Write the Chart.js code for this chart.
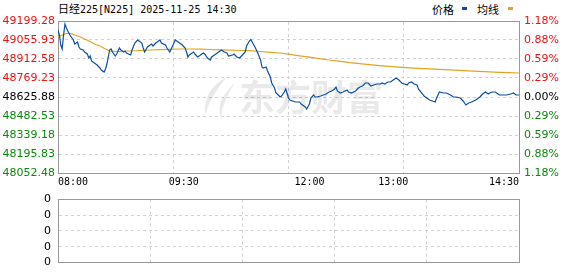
<!DOCTYPE html>
<html><head><meta charset="utf-8">
<script src="https://cdn.jsdelivr.net/npm/chart.js@4.4.0/dist/chart.umd.min.js"></script>
<style>
html,body{margin:0;padding:0;background:#fff;width:578px;height:276px;overflow:hidden;}
body{position:relative;}
#c1{position:absolute;left:0;top:0;}
#c2{position:absolute;left:0;top:186px;}
#title{position:absolute;left:58px;top:2px;font-family:'DejaVu Sans Mono';font-size:10px;color:#000;white-space:nowrap;line-height:13px;}
#title .cjk{font-family:'Noto Sans CJK SC';font-size:11px;}
#legend{position:absolute;top:1px;left:0;width:578px;height:16px;font-family:'Noto Sans CJK SC';font-size:11px;color:#000;}
#legend span{position:absolute;line-height:16px;white-space:nowrap;}
#legend i{position:absolute;display:block;height:3px;width:5px;top:6px;}
</style>
</head><body>
<div id="title"><span class="cjk">日经</span>225[N225] 2025-11-25 14:30</div>
<div id="legend">
  <span style="left:432px">价格</span><i style="left:462px;background:#0d4fa3"></i>
  <span style="left:477px">均线</span><i style="left:508px;background:#e0a526"></i>
</div>
<canvas id="c1" width="578" height="190"></canvas>
<canvas id="c2" width="578" height="90"></canvas>
<script>
// ---- data (minutes counted in trading time from 08:00) ----
const priceMinutes = [0,1,2,3,4,5,6,7,9,11,12,14,15,16,18,19,21,22,23,24,26,28,30,31,33,34,35,36,37,38,39,41,42,44,45,47,48,49,52,53,55,57,58,60,61,62,64,65,67,68,70,72,73,74,77,78,80,82,84,85,87,89,91,92,93,94,97,98,100,102,104,105,107,109,110,112,115,117,119,121,122,125,126,128,130,132,134,135,137,138,139,141,143,145,146,147,149,150,152,153,155,156,157,159,160,162,163,165,166,168,170,173,174,175,177,178,180,181,183,184,185,188,190,192,194,196,198,199,200,202,204,207,208,210,213,215,216,218,220,222,224,226,228,231,232,234,236,238,240,242,244,246,248,250,251,253,255,257,258,261,262,264,266,268,270,271,273,276,278,281,283,285,288,290,292,294,296,299,301,302,304,306,308,309,311,313,315,316,319,321,324,326,328,330];
const priceValues = [49131.4,49093.6,49018.2,48988.0,49093.6,49176.6,49146.5,49123.8,49086.1,49055.9,49025.7,49040.8,49003.1,48988.0,48980.5,48965.4,48950.3,48920.1,48935.2,48897.5,48882.4,48867.3,48844.7,48829.6,48814.5,48837.1,48874.9,48927.7,48980.5,48988.0,48965.4,48935.2,48950.3,48995.6,48980.5,48965.4,48973.0,48957.8,48942.8,48980.5,49033.3,49055.9,49048.4,49033.3,48995.6,48965.4,49003.1,49010.7,49025.7,49010.7,49033.3,49048.4,49055.9,49033.3,49018.2,48995.6,48965.4,49010.7,49055.9,49048.4,49033.3,49018.2,48995.6,48965.4,48927.7,48942.8,48965.4,48950.3,48927.7,48942.8,48957.8,48950.3,48920.1,48905.0,48927.7,48942.8,48965.4,48980.5,48965.4,48957.8,48935.2,48942.8,48950.3,48927.7,48920.1,48942.8,48965.4,49010.7,49048.4,49059.7,49040.8,49003.1,48957.8,48905.0,48852.2,48844.7,48852.2,48822.0,48776.8,48731.5,48693.8,48656.1,48648.5,48625.9,48633.4,48663.6,48686.2,48618.3,48603.2,48595.7,48588.1,48588.1,48573.0,48565.5,48550.4,48535.3,48573.0,48618.3,48641.0,48625.9,48625.9,48633.4,48641.0,48648.5,48663.6,48671.2,48686.2,48701.3,48671.2,48656.1,48663.6,48678.7,48663.6,48656.1,48671.2,48693.8,48701.3,48708.9,48731.5,48731.5,48708.9,48716.4,48724.0,48724.0,48731.5,48724.0,48739.0,48739.0,48754.1,48769.2,48754.1,48731.5,48724.0,48716.4,48731.5,48739.0,48724.0,48716.4,48686.2,48648.5,48633.4,48618.3,48603.2,48595.7,48588.1,48618.3,48663.6,48656.1,48656.1,48641.0,48625.9,48625.9,48618.3,48595.7,48565.5,48580.6,48588.1,48603.2,48618.3,48625.9,48648.5,48663.6,48648.5,48656.1,48663.6,48663.6,48648.5,48641.0,48641.0,48641.0,48648.5,48656.1,48641.0,48641.0];
const avgMinutes = [0,3,6,9,12,16,19,23,26,30,34,37,41,44,52,59,66,73,80,87,94,102,109,116,123,130,137,145,152,159,166,173,180,187,194,202,209,216,223,230,237,244,251,258,266,273,280,287,294,301,309,316,323,330];
const avgValues = [49078.6,49093.6,49105.0,49105.0,49093.6,49078.6,49063.5,49044.6,49025.7,49010.7,48988.0,48973.0,48969.2,48969.2,48973.0,48976.7,48980.5,48982.8,48985.8,48988.0,48988.0,48986.5,48984.3,48982.0,48979.0,48976.7,48975.2,48969.2,48963.2,48957.8,48948.0,48936.7,48926.2,48915.6,48905.0,48895.2,48884.6,48877.8,48870.4,48862.8,48856.8,48850.7,48846.2,48842.4,48838.7,48834.9,48831.1,48827.3,48823.6,48819.8,48816.0,48812.2,48809.2,48806.9];
const priceTickValues = [48052.48,48195.83,48339.18,48482.53,48625.88,48769.23,48912.58,49055.93,49199.28];
const priceTickLabels = ['48052.48','48195.83','48339.18','48482.53','48625.88','48769.23','48912.58','49055.93','49199.28'];
const pctTickLabels = ['1.18%','0.88%','0.59%','0.29%','0.00%','0.29%','0.59%','0.88%','1.18%'];
const timeTickMinutes = [0,90,180,240,330];
const timeTickLabels = ['08:00','09:30','12:00','13:00','14:30'];
const gridMinutes = [0,82.5,165,247.5,330];
const volumeValues = [];
const volTickValues = [0,1,2,3,4];
const volTickLabels = ['0','0','0','0','0'];

const RED = '#f01010', GREEN = '#0a8a0a', BLACK = '#000';
const GRID = '#d2d2d2', FRAME = '#999';
const tickColor = ctx => ctx.index < 4 ? GREEN : (ctx.index === 4 ? BLACK : RED);
const setTicks = vals => s => { s.ticks = vals.map(v => ({value: v})); };
const axisFont = {family: 'DejaVu Sans', size: 11};

const watermark = {
  id: 'watermark',
  beforeDatasetsDraw(chart) {
    const {ctx, chartArea: a} = chart;
    ctx.save();
    ctx.fillStyle = 'rgba(0,0,0,0.085)';
    // simple feather-like logo
    const lx = a.left + (a.right - a.left) * 0.31, ly = a.top + 76;
    ctx.beginPath();
    ctx.moveTo(lx + 26, ly - 20);
    ctx.quadraticCurveTo(lx + 2, ly - 8, lx + 4, ly + 18);
    ctx.quadraticCurveTo(lx + 10, ly - 2, lx + 26, ly - 20);
    ctx.fill();
    ctx.beginPath();
    ctx.moveTo(lx + 34, ly - 14);
    ctx.quadraticCurveTo(lx + 14, ly + 4, lx + 20, ly + 20);
    ctx.quadraticCurveTo(lx + 22, ly + 4, lx + 34, ly - 14);
    ctx.fill();
    ctx.font = 'bold 36px "Noto Sans CJK SC"';
    ctx.textAlign = 'left';
    ctx.textBaseline = 'middle';
    ctx.fillText('东方财富', lx + 38, ly);
    ctx.restore();
  }
};

new Chart(document.getElementById('c1'), {
  type: 'line',
  data: {
    datasets: [
      {label: '价格', data: priceMinutes.map((m, i) => ({x: m, y: priceValues[i]})),
       borderColor: '#0d4fa3', borderWidth: 1.2, pointRadius: 0, tension: 0, xAxisID: 'x', yAxisID: 'y'},
      {label: '均线', data: avgMinutes.map((m, i) => ({x: m, y: avgValues[i]})),
       borderColor: '#e0a526', borderWidth: 1.2, pointRadius: 0, tension: 0, xAxisID: 'x', yAxisID: 'y'}
    ]
  },
  options: {
    responsive: false, animation: false, devicePixelRatio: 1,
    layout: {padding: {top: 21, bottom: 0, left: 0, right: 0}},
    plugins: {legend: {display: false}, tooltip: {enabled: false}},
    scales: {
      x: {type: 'linear', position: 'bottom', min: 0, max: 330,
          afterBuildTicks: setTicks(timeTickMinutes),
          afterFit: s => { s.height = 17; },
          ticks: {callback: (v, i) => timeTickLabels[i], autoSkip: false, maxRotation: 0, align: 'inner',
                  padding: 3, color: '#000', font: {family: 'DejaVu Sans Mono', size: 10}},
          grid: {display: false, drawTicks: false},
          border: {display: true, color: FRAME, width: 1}},
      xg: {type: 'linear', position: 'top', min: 0, max: 330,
          afterBuildTicks: setTicks(gridMinutes),
          afterFit: s => { s.height = 0; },
          ticks: {display: false},
          grid: {display: true, color: GRID, drawTicks: false, lineWidth: 1},
          border: {display: true, color: FRAME, width: 1, dash: [3, 3]}},
      y: {type: 'linear', position: 'left', min: 48052.48, max: 49199.28,
          afterBuildTicks: setTicks(priceTickValues),
          afterFit: s => { s.width = 58; },
          ticks: {callback: (v, i) => priceTickLabels[i], color: tickColor, font: axisFont, padding: 3, autoSkip: false},
          grid: {color: GRID, drawTicks: false},
          border: {display: true, color: FRAME, width: 1, dash: [3, 3]}},
      y1: {type: 'linear', position: 'right', min: 48052.48, max: 49199.28,
          afterBuildTicks: setTicks(priceTickValues),
          afterFit: s => { s.width = 59; },
          ticks: {callback: (v, i) => pctTickLabels[i], color: tickColor, font: axisFont, padding: 5, autoSkip: false},
          grid: {display: false, drawTicks: false},
          border: {display: true, color: FRAME, width: 1}}
    }
  },
  plugins: [watermark]
});

new Chart(document.getElementById('c2'), {
  type: 'bar',
  data: {datasets: [{label: '成交量', data: volumeValues, backgroundColor: '#0d4fa3', xAxisID: 'x', yAxisID: 'y'}]},
  options: {
    responsive: false, animation: false, devicePixelRatio: 1,
    layout: {padding: {top: 10, bottom: 6, left: 0, right: 0}},
    plugins: {legend: {display: false}, tooltip: {enabled: false}},
    scales: {
      x: {type: 'linear', position: 'bottom', min: 0, max: 330,
          afterBuildTicks: setTicks(gridMinutes),
          afterFit: s => { s.height = 0; },
          ticks: {display: false},
          grid: {display: true, color: GRID, drawTicks: false},
          border: {display: true, color: FRAME, width: 1, dash: [3, 3]}},
      xt: {type: 'linear', position: 'top', min: 0, max: 330,
          afterFit: s => { s.height = 0; },
          ticks: {display: false},
          grid: {display: false, drawTicks: false},
          border: {display: true, color: FRAME, width: 1}},
      y: {type: 'linear', position: 'left', min: 0, max: 4,
          afterBuildTicks: setTicks(volTickValues),
          afterFit: s => { s.width = 58; },
          ticks: {callback: (v, i) => volTickLabels[i], color: '#000', font: axisFont, padding: 7, autoSkip: false},
          grid: {color: GRID, drawTicks: false},
          border: {display: true, color: FRAME, width: 1, dash: [3, 3]}},
      y1: {type: 'linear', position: 'right', min: 0, max: 4,
          afterFit: s => { s.width = 59; },
          ticks: {display: false},
          grid: {display: false, drawTicks: false},
          border: {display: true, color: FRAME, width: 1}}
    }
  }
});
</script>
</body></html>
